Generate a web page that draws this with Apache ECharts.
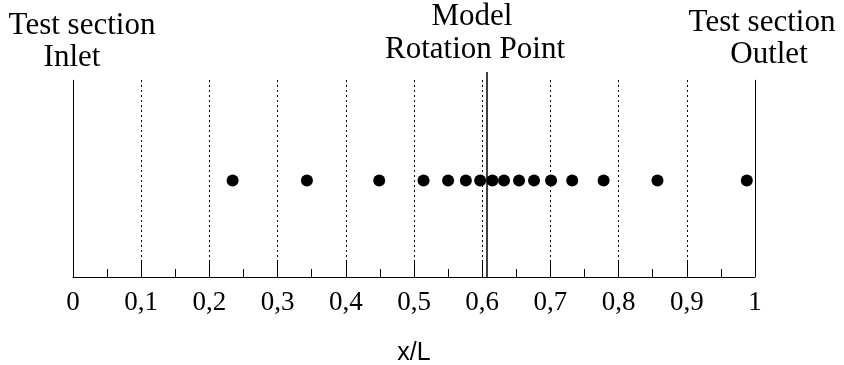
<!DOCTYPE html>
<html>
<head>
<meta charset="utf-8">
<script src="https://cdn.jsdelivr.net/npm/echarts@6/dist/echarts.min.js"></script>
<style>
  html, body { margin: 0; padding: 0; background: #fff; }
  #chart { width: 844px; height: 365px; }
</style>
</head>
<body>
<div id="chart"></div>
<script>
// measurement stations along the test section (x/L)
const stations = [0.234, 0.343, 0.449, 0.514, 0.550, 0.576, 0.597, 0.615, 0.632,
  0.654, 0.676, 0.701, 0.732, 0.778, 0.857, 0.988]
const stationLevel = 0.49
// dotted reference lines
const gridLines = [0.1, 0.2, 0.3, 0.4, 0.5, 0.6, 0.7, 0.8, 0.9]
// solid lines: inlet, outlet, model rotation point
const inletX = 0
const outletX = 1
const rotationX = 0.606

const serif = '"Liberation Serif", "DejaVu Serif", serif'

// centred caption text
function caption (text, x, y) {
  return {
    type: 'text',
    x: x,
    y: y,
    style: {
      text: text,
      font: '31px ' + serif,
      fill: '#000',
      align: 'center',
      textAlign: 'center',
      verticalAlign: 'top',
      textVerticalAlign: 'top'
    }
  }
}

const chart = echarts.init(document.getElementById('chart'))

const option = {
  animation: false,
  grid: { left: 73, right: 89, top: 72, bottom: 88, outerBoundsMode: 'none', containLabel: false },
  xAxis: {
    type: 'value',
    min: 0,
    max: 1,
    interval: 0.1,
    name: 'x/L',
    nameLocation: 'middle',
    nameGap: 64,
    nameTextStyle: { fontFamily: '"Liberation Sans", Arial, sans-serif', fontSize: 25, color: '#000' },
    axisLine: { lineStyle: { color: '#000', width: 1 } },
    axisTick: { inside: true, length: 16, lineStyle: { color: '#000' } },
    minorTick: { show: true, splitNumber: 2, length: 8, lineStyle: { color: '#000' } },
    splitLine: { show: false },
    axisLabel: {
      margin: 12,
      fontFamily: serif,
      fontSize: 27,
      color: '#000',
      formatter: v => String(Math.round(v * 10) / 10).replace('.', ',')
    }
  },
  yAxis: {
    type: 'value',
    min: 0,
    max: 1.04,
    show: false
  },
  graphic: [
    caption('Test section', 82, 10),
    caption('Inlet', 72, 42),
    caption('Model', 472, 1),
    caption('Rotation Point', 475, 34),
    caption('Test section', 762, 7),
    caption('Outlet', 769, 39)
  ],
  series: [
    {
      type: 'scatter',
      symbol: 'circle',
      symbolSize: 12,
      itemStyle: { color: '#000', opacity: 1 },
      data: stations.map(x => [x, stationLevel]),
      markLine: {
        silent: true,
        symbol: 'none',
        label: { show: false },
        data: [
          ...gridLines.map(x => [
            { coord: [x, 0], lineStyle: { type: [2, 3], color: '#000', width: 1 } },
            { coord: [x, 1] }
          ]),
          [{ coord: [inletX, 0], lineStyle: { type: 'solid', color: '#000', width: 1 } }, { coord: [inletX, 1] }],
          [{ coord: [outletX, 0], lineStyle: { type: 'solid', color: '#000', width: 1 } }, { coord: [outletX, 1] }],
          [{ coord: [rotationX, 0], lineStyle: { type: 'solid', color: '#000', width: 1.5 } }, { coord: [rotationX, 1.04] }]
        ]
      }
    }
  ]
}

chart.setOption(option)
</script>
</body>
</html>
